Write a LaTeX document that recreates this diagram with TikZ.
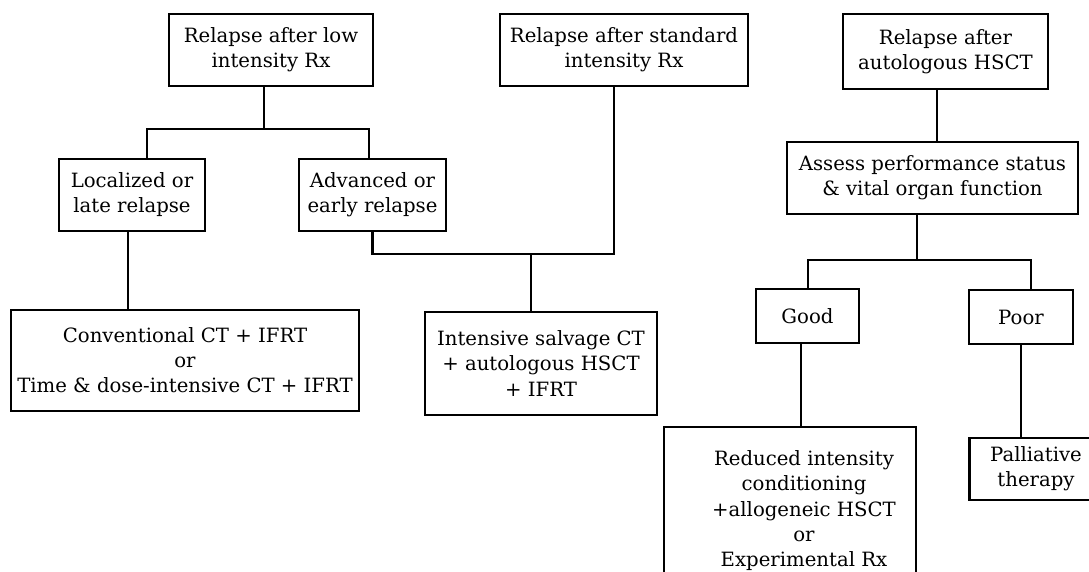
\documentclass[tikz,border=0pt]{standalone}
\usepackage{fontspec}
\setmainfont{DejaVu Serif}
\usepackage{tikz}

\begin{document}
\begin{tikzpicture}
[
    box/.style={draw, line width=1.4pt, align=center, inner sep=0pt,
                font=\fontsize{11.2}{14.3}\selectfont},   % box = step of the scheme
    ln/.style={line width=1.3pt},                          % ln = plain connector
]
\useasboundingbox (0,0) rectangle (21.78,11.42);
\clip (0,0) rectangle (21.78,11.42);

\node [box, minimum width=4.08cm, minimum height=1.44cm] (low) at (5.42,10.42) {Relapse after low\\intensity Rx};
\node [box, minimum width=4.96cm, minimum height=1.44cm] (std) at (12.48,10.42) {Relapse after standard\\intensity Rx};
\node [box, minimum width=4.10cm, minimum height=1.50cm] (auto) at (18.91,10.39) {Relapse after\\autologous HSCT};

\node [box, minimum width=2.92cm, minimum height=1.44cm] (loc) at (2.64,7.52) {Localized or\\late relapse};
\node [box, minimum width=2.94cm, minimum height=1.44cm] (adv) at (7.45,7.52) {Advanced or\\early relapse};
\node [box, minimum width=5.82cm, minimum height=1.44cm] (assess) at (18.65,7.86) {Assess performance status\\\& vital organ function};

\node [box, minimum width=6.96cm, minimum height=2.02cm] (conv) at (3.70,4.21) {Conventional CT + IFRT\\or\\Time \& dose-intensive CT + IFRT};
\node [box, minimum width=4.64cm, minimum height=2.06cm] (salv) at (10.82,4.15) {Intensive salvage CT\\+ autologous HSCT\\+ IFRT};
\node [box, minimum width=2.06cm, minimum height=1.08cm] (good) at (16.15,5.10) {Good};
\node [box, minimum width=2.08cm, minimum height=1.08cm] (poor) at (20.42,5.08) {Poor};

\node [box, minimum width=5.04cm, minimum height=3.36cm] (allo) at (15.80,1.20) {\hspace*{0.56cm}\begin{tabular}{@{}c@{}}Reduced intensity\\conditioning\\+allogeneic HSCT\\or\\Experimental Rx\end{tabular}};
\node [box, minimum width=2.66cm, minimum height=1.24cm] (pall) at (20.72,2.04) {Palliative\\therapy};

% junction points
\coordinate (jlow) at (5.28,8.84);
\coordinate (jloc) at (2.94,8.84);
\coordinate (jadv) at (7.38,8.84);
\coordinate (dloc) at (2.56,0);
\coordinate (jstd) at (12.28,6.34);
\coordinate (jsal) at (10.62,6.34);
\coordinate (dauto) at (18.74,0);
\coordinate (jass) at (18.34,6.22);
\coordinate (jgood) at (16.16,6.22);
\coordinate (jpoor) at (20.62,6.22);
\coordinate (dgood) at (16.02,0);

\draw [ln] (low.south -| jlow) -- (jlow);
\draw [ln] (jloc |- loc.north) -- (jloc) -- (jadv) -- (jadv |- adv.north);
\draw [ln] (loc.south -| dloc) -- (conv.north -| dloc);
\draw [ln] (adv.south) |- (jstd) -- (jstd |- std.south);
\draw [ln] (jsal) -- (jsal |- salv.north);

\draw [ln] (auto.south -| dauto) -- (assess.north -| dauto);
\draw [ln] (assess.south -| jass) -- (jass);
\draw [ln] (jgood |- good.north) -- (jgood) -- (jpoor) -- (jpoor |- poor.north);
\draw [ln] (good.south -| dgood) -- (allo.north -| dgood);
\draw [ln] (poor.south) -- (pall.north -| poor.south);
\end{tikzpicture}
\end{document}
